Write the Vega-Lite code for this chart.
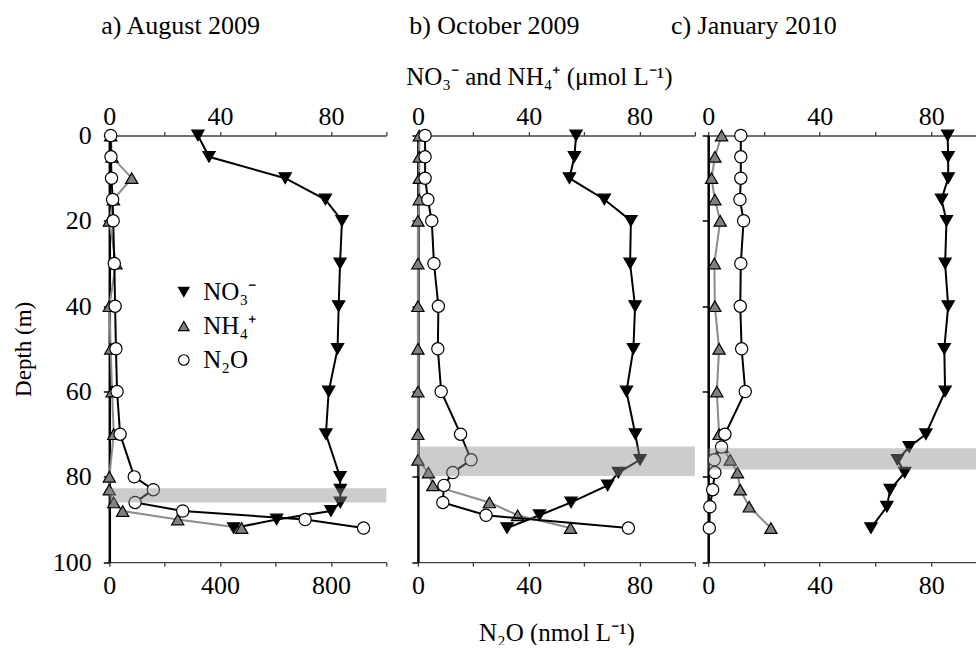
{
  "$schema": "https://vega.github.io/schema/vega-lite/v6.json",
  "padding": {"left": 12.3, "top": 13.5, "right": 0, "bottom": 0},
  "background": "white",
  "config": {
    "font": "Liberation Serif",
    "view": {"stroke": null},
    "axis": {"grid": false, "labelFontSize": 26, "titleFontSize": 25, "labelColor": "black", "titleColor": "black", "titleFontWeight": "normal", "labelFlush": false, "labelOverlap": false, "tickSize": 4, "domainColor": "#404040", "tickColor": "#404040", "domainWidth": 1.3, "tickWidth": 1.3, "labelPadding": 2},
    "axisBottom": {"labelPadding": 6},
    "axisY": {"domainColor": "black", "domainWidth": 2.5, "tickColor": "black", "tickWidth": 1.5, "tickSize": 6, "labelPadding": 12},
    "title": {"fontSize": 26, "fontWeight": "normal", "anchor": "start", "frame": "group", "color": "black", "offset": 25},
    "legend": {"labelFontSize": 25, "labelColor": "black", "symbolSize": 110, "rowPadding": 8, "labelOffset": 7, "padding": 0, "symbolStrokeColor": "black", "symbolStrokeWidth": 1.2, "symbolOpacity": 1}
  },
  "datasets": {
    "pts": [
      {"p":"a","s":"NO₃⁻","d":0,"v":32},{"p":"a","s":"NO₃⁻","d":5,"v":36},{"p":"a","s":"NO₃⁻","d":10,"v":63.5},{"p":"a","s":"NO₃⁻","d":15,"v":78},{"p":"a","s":"NO₃⁻","d":20,"v":84},{"p":"a","s":"NO₃⁻","d":30,"v":83.3},{"p":"a","s":"NO₃⁻","d":40,"v":82.8},{"p":"a","s":"NO₃⁻","d":50,"v":82.4},{"p":"a","s":"NO₃⁻","d":60,"v":79.2},{"p":"a","s":"NO₃⁻","d":70,"v":78.2},{"p":"a","s":"NO₃⁻","d":80,"v":83.3},{"p":"a","s":"NO₃⁻","d":83,"v":83.4},{"p":"a","s":"NO₃⁻","d":86,"v":83.4},{"p":"a","s":"NO₃⁻","d":88,"v":80},{"p":"a","s":"NO₃⁻","d":90,"v":60.4},{"p":"a","s":"NO₃⁻","d":92,"v":44.9},
      {"p":"a","s":"NH₄⁺","d":0,"v":0.5},{"p":"a","s":"NH₄⁺","d":5,"v":1},{"p":"a","s":"NH₄⁺","d":10,"v":8.1},{"p":"a","s":"NH₄⁺","d":15,"v":1.5},{"p":"a","s":"NH₄⁺","d":20,"v":0},{"p":"a","s":"NH₄⁺","d":30,"v":2.4},{"p":"a","s":"NH₄⁺","d":40,"v":0},{"p":"a","s":"NH₄⁺","d":50,"v":0.5},{"p":"a","s":"NH₄⁺","d":60,"v":1},{"p":"a","s":"NH₄⁺","d":70,"v":1.6},{"p":"a","s":"NH₄⁺","d":80,"v":0},{"p":"a","s":"NH₄⁺","d":83,"v":0},{"p":"a","s":"NH₄⁺","d":86,"v":1.6},{"p":"a","s":"NH₄⁺","d":88,"v":4.8},{"p":"a","s":"NH₄⁺","d":90,"v":24.7},{"p":"a","s":"NH₄⁺","d":92,"v":47.8},
      {"p":"a","s":"N₂O","d":0,"v":5},{"p":"a","s":"N₂O","d":5,"v":6},{"p":"a","s":"N₂O","d":10,"v":8},{"p":"a","s":"N₂O","d":15,"v":12},{"p":"a","s":"N₂O","d":20,"v":14},{"p":"a","s":"N₂O","d":30,"v":18},{"p":"a","s":"N₂O","d":40,"v":21},{"p":"a","s":"N₂O","d":50,"v":24},{"p":"a","s":"N₂O","d":60,"v":28},{"p":"a","s":"N₂O","d":70,"v":39},{"p":"a","s":"N₂O","d":80,"v":90},{"p":"a","s":"N₂O","d":83,"v":159},{"p":"a","s":"N₂O","d":86,"v":93},{"p":"a","s":"N₂O","d":88,"v":265},{"p":"a","s":"N₂O","d":90,"v":707},{"p":"a","s":"N₂O","d":92,"v":918},
      {"p":"b","s":"NO₃⁻","d":0,"v":57.1},{"p":"b","s":"NO₃⁻","d":5,"v":56.5},{"p":"b","s":"NO₃⁻","d":10,"v":54.7},{"p":"b","s":"NO₃⁻","d":15,"v":67.3},{"p":"b","s":"NO₃⁻","d":20,"v":76.9},{"p":"b","s":"NO₃⁻","d":30,"v":76.6},{"p":"b","s":"NO₃⁻","d":40,"v":78.4},{"p":"b","s":"NO₃⁻","d":50,"v":77.8},{"p":"b","s":"NO₃⁻","d":60,"v":75.3},{"p":"b","s":"NO₃⁻","d":70,"v":78.5},{"p":"b","s":"NO₃⁻","d":76,"v":80.2},{"p":"b","s":"NO₃⁻","d":79,"v":72.4},{"p":"b","s":"NO₃⁻","d":82,"v":68.5},{"p":"b","s":"NO₃⁻","d":86,"v":55.3},{"p":"b","s":"NO₃⁻","d":89,"v":43.9},{"p":"b","s":"NO₃⁻","d":92,"v":32.2},
      {"p":"b","s":"NH₄⁺","d":0,"v":0.5},{"p":"b","s":"NH₄⁺","d":5,"v":0.5},{"p":"b","s":"NH₄⁺","d":10,"v":0.5},{"p":"b","s":"NH₄⁺","d":15,"v":0.5},{"p":"b","s":"NH₄⁺","d":20,"v":0},{"p":"b","s":"NH₄⁺","d":30,"v":0},{"p":"b","s":"NH₄⁺","d":40,"v":0},{"p":"b","s":"NH₄⁺","d":50,"v":0},{"p":"b","s":"NH₄⁺","d":60,"v":0},{"p":"b","s":"NH₄⁺","d":70,"v":0},{"p":"b","s":"NH₄⁺","d":76,"v":0},{"p":"b","s":"NH₄⁺","d":79,"v":3.8},{"p":"b","s":"NH₄⁺","d":82,"v":5.4},{"p":"b","s":"NH₄⁺","d":86,"v":25.8},{"p":"b","s":"NH₄⁺","d":89,"v":36},{"p":"b","s":"NH₄⁺","d":92,"v":55.1},
      {"p":"b","s":"N₂O","d":0,"v":2.6},{"p":"b","s":"N₂O","d":5,"v":2.6},{"p":"b","s":"N₂O","d":10,"v":2.6},{"p":"b","s":"N₂O","d":15,"v":3.6},{"p":"b","s":"N₂O","d":20,"v":5},{"p":"b","s":"N₂O","d":30,"v":5.8},{"p":"b","s":"N₂O","d":40,"v":7.4},{"p":"b","s":"N₂O","d":50,"v":7.2},{"p":"b","s":"N₂O","d":60,"v":8.4},{"p":"b","s":"N₂O","d":70,"v":15.4},{"p":"b","s":"N₂O","d":76,"v":19.2},{"p":"b","s":"N₂O","d":79,"v":12.6},{"p":"b","s":"N₂O","d":82,"v":9.4},{"p":"b","s":"N₂O","d":86,"v":9},{"p":"b","s":"N₂O","d":89,"v":24.6},{"p":"b","s":"N₂O","d":92,"v":76},
      {"p":"c","s":"NO₃⁻","d":0,"v":85.9},{"p":"c","s":"NO₃⁻","d":5,"v":86.1},{"p":"c","s":"NO₃⁻","d":10,"v":86.1},{"p":"c","s":"NO₃⁻","d":15,"v":83.7},{"p":"c","s":"NO₃⁻","d":20,"v":85.5},{"p":"c","s":"NO₃⁻","d":30,"v":85},{"p":"c","s":"NO₃⁻","d":40,"v":86.1},{"p":"c","s":"NO₃⁻","d":50,"v":84.7},{"p":"c","s":"NO₃⁻","d":60,"v":85},{"p":"c","s":"NO₃⁻","d":70,"v":78.1},{"p":"c","s":"NO₃⁻","d":73,"v":72.1},{"p":"c","s":"NO₃⁻","d":76,"v":67.9},{"p":"c","s":"NO₃⁻","d":79,"v":70.5},{"p":"c","s":"NO₃⁻","d":83,"v":65.3},{"p":"c","s":"NO₃⁻","d":87,"v":64.1},{"p":"c","s":"NO₃⁻","d":92,"v":58.4},
      {"p":"c","s":"NH₄⁺","d":0,"v":4.8},{"p":"c","s":"NH₄⁺","d":5,"v":2.4},{"p":"c","s":"NH₄⁺","d":10,"v":1.2},{"p":"c","s":"NH₄⁺","d":15,"v":2.4},{"p":"c","s":"NH₄⁺","d":20,"v":4.3},{"p":"c","s":"NH₄⁺","d":30,"v":2.2},{"p":"c","s":"NH₄⁺","d":40,"v":2.4},{"p":"c","s":"NH₄⁺","d":50,"v":3.9},{"p":"c","s":"NH₄⁺","d":60,"v":3.1},{"p":"c","s":"NH₄⁺","d":70,"v":3.9},{"p":"c","s":"NH₄⁺","d":73,"v":5},{"p":"c","s":"NH₄⁺","d":76,"v":7.9},{"p":"c","s":"NH₄⁺","d":79,"v":10.5},{"p":"c","s":"NH₄⁺","d":83,"v":11.5},{"p":"c","s":"NH₄⁺","d":87,"v":14.7},{"p":"c","s":"NH₄⁺","d":92,"v":22.5},
      {"p":"c","s":"N₂O","d":0,"v":11.7},{"p":"c","s":"N₂O","d":5,"v":11.7},{"p":"c","s":"N₂O","d":10,"v":11.7},{"p":"c","s":"N₂O","d":15,"v":11.4},{"p":"c","s":"N₂O","d":20,"v":12.7},{"p":"c","s":"N₂O","d":30,"v":11.7},{"p":"c","s":"N₂O","d":40,"v":11.5},{"p":"c","s":"N₂O","d":50,"v":12},{"p":"c","s":"N₂O","d":60,"v":13.3},{"p":"c","s":"N₂O","d":70,"v":6},{"p":"c","s":"N₂O","d":73,"v":4.8},{"p":"c","s":"N₂O","d":76,"v":2.2},{"p":"c","s":"N₂O","d":79,"v":2.4},{"p":"c","s":"N₂O","d":83,"v":1.6},{"p":"c","s":"N₂O","d":87,"v":0.6},{"p":"c","s":"N₂O","d":92,"v":0.4}
    ],
    "band": [
      {"p":"a","top":82.7,"bot":86},
      {"p":"b","top":72.9,"bot":79.8},
      {"p":"c","top":73.3,"bot":78.3}
    ]
  },
  "data": {"name": "pts"},
  "spacing": 13.3,
  "bounds": "flush",
  "resolve": {"scale": {"shape": "independent", "color": "independent", "stroke": "independent"}},
  "hconcat": [
    {
      "width": 277, "height": 426.7,
      "title": {"text": "a) August 2009", "dx": -8},
      "layer": [
        {
          "transform": [{"filter": {"field": "p", "equal": "a"}}, {"filter": {"field": "s", "oneOf": ["NO₃⁻", "NH₄⁺"]}}],
          "encoding": {
            "x": {"field": "v", "type": "quantitative", "scale": {"domain": [0, 100], "nice": false, "zero": false}, "axis": {"orient": "top", "values": [0, 20, 40, 60, 80, 100], "labelExpr": "datum.value % 40 === 0 ? datum.label : ''", "title": "NO₃⁻ and NH₄⁺ (μmol L⁻¹)", "titleX": 121, "titlePadding": 14, "titleOpacity": 0}},
            "y": {"field": "d", "type": "quantitative", "scale": {"domain": [0, 100], "reverse": true, "nice": false}, "axis": {"values": [0, 20, 40, 60, 80, 100], "title": "Depth (m)", "titleFontSize": 23, "titlePadding": 17}}
          },
          "layer": [
            {"mark": {"type": "line", "strokeWidth": 2}, "encoding": {"stroke": {"field": "s", "type": "nominal", "scale": {"domain": ["NH₄⁺", "NO₃⁻"], "range": ["#8c8c8c", "black"]}, "legend": null}, "order": {"field": "d", "type": "quantitative"}}},
            {"mark": {"type": "point", "filled": true, "stroke": "black", "strokeWidth": 1.2, "size": 150, "opacity": 1},
             "encoding": {
               "shape": {"field": "s", "type": "nominal", "title": null, "scale": {"domain": ["NO₃⁻", "NH₄⁺", "N₂O"], "range": ["triangle-down", "triangle-up", "circle"]}, "legend": {"orient": "none", "legendX": 62, "legendY": 144, "encode": {"symbols": {"update": {"stroke": {"value": "black"}, "strokeWidth": {"value": 1.2}}}}}},
               "color": {"field": "s", "type": "nominal", "title": null, "scale": {"domain": ["NO₃⁻", "NH₄⁺", "N₂O"], "range": ["black", "#808080", "white"]}, "legend": {"orient": "none", "legendX": 62, "legendY": 144, "encode": {"symbols": {"update": {"stroke": {"value": "black"}, "strokeWidth": {"value": 1.2}}}}}}
             }}
          ]
        },
        {
          "transform": [{"filter": {"field": "p", "equal": "a"}}, {"filter": {"field": "s", "equal": "N₂O"}}],
          "encoding": {
            "x": {"field": "v", "type": "quantitative", "scale": {"domain": [0, 1000], "nice": false, "zero": false}, "axis": {"orient": "bottom", "values": [0, 200, 400, 600, 800, 1000], "labelExpr": "datum.value % 400 === 0 ? datum.label : ''", "title": null}},
            "y": {"field": "d", "type": "quantitative", "scale": {"domain": [0, 100], "reverse": true, "nice": false}, "axis": {"values": [0, 20, 40, 60, 80, 100], "title": "Depth (m)", "titleFontSize": 23, "titlePadding": 17}}
          },
          "layer": [
            {"mark": {"type": "line", "strokeWidth": 2, "color": "black"}, "encoding": {"order": {"field": "d", "type": "quantitative"}}},
            {"mark": {"type": "point", "filled": true, "stroke": "black", "strokeWidth": 1.2, "size": 150, "opacity": 1},
             "encoding": {
               "shape": {"field": "s", "type": "nominal", "title": null, "scale": {"domain": ["NO₃⁻", "NH₄⁺", "N₂O"], "range": ["triangle-down", "triangle-up", "circle"]}, "legend": {"orient": "none", "legendX": 62, "legendY": 144, "encode": {"symbols": {"update": {"stroke": {"value": "black"}, "strokeWidth": {"value": 1.2}}}}}},
               "color": {"field": "s", "type": "nominal", "title": null, "scale": {"domain": ["NO₃⁻", "NH₄⁺", "N₂O"], "range": ["black", "#808080", "white"]}, "legend": {"orient": "none", "legendX": 62, "legendY": 144, "encode": {"symbols": {"update": {"stroke": {"value": "black"}, "strokeWidth": {"value": 1.2}}}}}}
             }}
          ]
        },
        {
          "data": {"name": "band"},
          "transform": [{"filter": {"field": "p", "equal": "a"}}],
          "mark": {"type": "rect", "fill": "#8a8a8a", "opacity": 0.44},
          "encoding": {
            "y": {"field": "top", "type": "quantitative", "scale": {"domain": [0, 100], "reverse": true, "nice": false}, "axis": {"values": [0, 20, 40, 60, 80, 100], "title": "Depth (m)", "titleFontSize": 23, "titlePadding": 17}},
            "y2": {"field": "bot"}
          }
        }
      ],
      "resolve": {"scale": {"x": "independent"}, "axis": {"x": "independent"}}
    },
    {"width": 4.8, "height": 426.7, "data": {"values": []}, "mark": "point"},
    {
      "width": 277, "height": 426.7,
      "title": {"text": "b) October 2009", "dx": -8.7},
      "layer": [
        {
          "transform": [{"filter": {"field": "p", "equal": "b"}}, {"filter": {"field": "s", "oneOf": ["NO₃⁻", "NH₄⁺"]}}],
          "encoding": {
            "x": {"field": "v", "type": "quantitative", "scale": {"domain": [0, 100], "nice": false, "zero": false}, "axis": {"orient": "top", "values": [0, 20, 40, 60, 80, 100], "labelExpr": "datum.value % 40 === 0 ? datum.label : ''", "title": "NO₃⁻ and NH₄⁺ (μmol L⁻¹)", "titleX": 121, "titlePadding": 14}},
            "y": {"field": "d", "type": "quantitative", "scale": {"domain": [0, 100], "reverse": true, "nice": false}, "axis": {"values": [0, 20, 40, 60, 80, 100], "labels": false, "title": null}}
          },
          "layer": [
            {"mark": {"type": "line", "strokeWidth": 2}, "encoding": {"stroke": {"field": "s", "type": "nominal", "scale": {"domain": ["NH₄⁺", "NO₃⁻"], "range": ["#8c8c8c", "black"]}, "legend": null}, "order": {"field": "d", "type": "quantitative"}}},
            {"mark": {"type": "point", "filled": true, "stroke": "black", "strokeWidth": 1.2, "size": 150, "opacity": 1},
             "encoding": {
               "shape": {"field": "s", "type": "nominal", "scale": {"domain": ["NO₃⁻", "NH₄⁺", "N₂O"], "range": ["triangle-down", "triangle-up", "circle"]}, "legend": null},
               "color": {"field": "s", "type": "nominal", "scale": {"domain": ["NO₃⁻", "NH₄⁺", "N₂O"], "range": ["black", "#808080", "white"]}, "legend": null}
             }}
          ]
        },
        {
          "transform": [{"filter": {"field": "p", "equal": "b"}}, {"filter": {"field": "s", "equal": "N₂O"}}],
          "encoding": {
            "x": {"field": "v", "type": "quantitative", "scale": {"domain": [0, 100], "nice": false, "zero": false}, "axis": {"orient": "bottom", "values": [0, 20, 40, 60, 80, 100], "labelExpr": "datum.value % 40 === 0 ? datum.label : ''", "title": "N₂O (nmol L⁻¹)", "titlePadding": 22}},
            "y": {"field": "d", "type": "quantitative", "scale": {"domain": [0, 100], "reverse": true, "nice": false}, "axis": {"values": [0, 20, 40, 60, 80, 100], "labels": false, "title": null}}
          },
          "layer": [
            {"mark": {"type": "line", "strokeWidth": 2, "color": "black"}, "encoding": {"order": {"field": "d", "type": "quantitative"}}},
            {"mark": {"type": "point", "filled": true, "stroke": "black", "strokeWidth": 1.2, "size": 150, "opacity": 1},
             "encoding": {
               "shape": {"field": "s", "type": "nominal", "scale": {"domain": ["NO₃⁻", "NH₄⁺", "N₂O"], "range": ["triangle-down", "triangle-up", "circle"]}, "legend": null},
               "color": {"field": "s", "type": "nominal", "scale": {"domain": ["NO₃⁻", "NH₄⁺", "N₂O"], "range": ["black", "#808080", "white"]}, "legend": null}
             }}
          ]
        },
        {
          "data": {"name": "band"},
          "transform": [{"filter": {"field": "p", "equal": "b"}}],
          "mark": {"type": "rect", "fill": "#8a8a8a", "opacity": 0.44},
          "encoding": {
            "y": {"field": "top", "type": "quantitative", "scale": {"domain": [0, 100], "reverse": true, "nice": false}, "axis": {"values": [0, 20, 40, 60, 80, 100], "labels": false, "title": null}},
            "y2": {"field": "bot"}
          }
        }
      ],
      "resolve": {"scale": {"x": "independent"}, "axis": {"x": "independent"}}
    },
    {
      "width": 268.7, "height": 426.7,
      "title": {"text": "c) January 2010", "dx": -37.3},
      "layer": [
        {
          "transform": [{"filter": {"field": "p", "equal": "c"}}, {"filter": {"field": "s", "oneOf": ["NO₃⁻", "NH₄⁺"]}}],
          "encoding": {
            "x": {"field": "v", "type": "quantitative", "scale": {"domain": [0, 96.4], "nice": false, "zero": false}, "axis": {"orient": "top", "values": [0, 20, 40, 60, 80], "labelExpr": "datum.value % 40 === 0 ? datum.label : ''", "title": "NO₃⁻ and NH₄⁺ (μmol L⁻¹)", "titleX": 121, "titlePadding": 14, "titleOpacity": 0}},
            "y": {"field": "d", "type": "quantitative", "scale": {"domain": [0, 100], "reverse": true, "nice": false}, "axis": {"values": [0, 20, 40, 60, 80, 100], "labels": false, "title": null}}
          },
          "layer": [
            {"mark": {"type": "line", "strokeWidth": 2}, "encoding": {"stroke": {"field": "s", "type": "nominal", "scale": {"domain": ["NH₄⁺", "NO₃⁻"], "range": ["#8c8c8c", "black"]}, "legend": null}, "order": {"field": "d", "type": "quantitative"}}},
            {"mark": {"type": "point", "filled": true, "stroke": "black", "strokeWidth": 1.2, "size": 150, "opacity": 1},
             "encoding": {
               "shape": {"field": "s", "type": "nominal", "scale": {"domain": ["NO₃⁻", "NH₄⁺", "N₂O"], "range": ["triangle-down", "triangle-up", "circle"]}, "legend": null},
               "color": {"field": "s", "type": "nominal", "scale": {"domain": ["NO₃⁻", "NH₄⁺", "N₂O"], "range": ["black", "#808080", "white"]}, "legend": null}
             }}
          ]
        },
        {
          "transform": [{"filter": {"field": "p", "equal": "c"}}, {"filter": {"field": "s", "equal": "N₂O"}}],
          "encoding": {
            "x": {"field": "v", "type": "quantitative", "scale": {"domain": [0, 96.4], "nice": false, "zero": false}, "axis": {"orient": "bottom", "values": [0, 20, 40, 60, 80], "labelExpr": "datum.value % 40 === 0 ? datum.label : ''", "title": null}},
            "y": {"field": "d", "type": "quantitative", "scale": {"domain": [0, 100], "reverse": true, "nice": false}, "axis": {"values": [0, 20, 40, 60, 80, 100], "labels": false, "title": null}}
          },
          "layer": [
            {"mark": {"type": "line", "strokeWidth": 2, "color": "black"}, "encoding": {"order": {"field": "d", "type": "quantitative"}}},
            {"mark": {"type": "point", "filled": true, "stroke": "black", "strokeWidth": 1.2, "size": 150, "opacity": 1},
             "encoding": {
               "shape": {"field": "s", "type": "nominal", "scale": {"domain": ["NO₃⁻", "NH₄⁺", "N₂O"], "range": ["triangle-down", "triangle-up", "circle"]}, "legend": null},
               "color": {"field": "s", "type": "nominal", "scale": {"domain": ["NO₃⁻", "NH₄⁺", "N₂O"], "range": ["black", "#808080", "white"]}, "legend": null}
             }}
          ]
        },
        {
          "data": {"name": "band"},
          "transform": [{"filter": {"field": "p", "equal": "c"}}],
          "mark": {"type": "rect", "fill": "#8a8a8a", "opacity": 0.44},
          "encoding": {
            "y": {"field": "top", "type": "quantitative", "scale": {"domain": [0, 100], "reverse": true, "nice": false}, "axis": {"values": [0, 20, 40, 60, 80, 100], "labels": false, "title": null}},
            "y2": {"field": "bot"}
          }
        }
      ],
      "resolve": {"scale": {"x": "independent"}, "axis": {"x": "independent"}}
    }
  ]
}
